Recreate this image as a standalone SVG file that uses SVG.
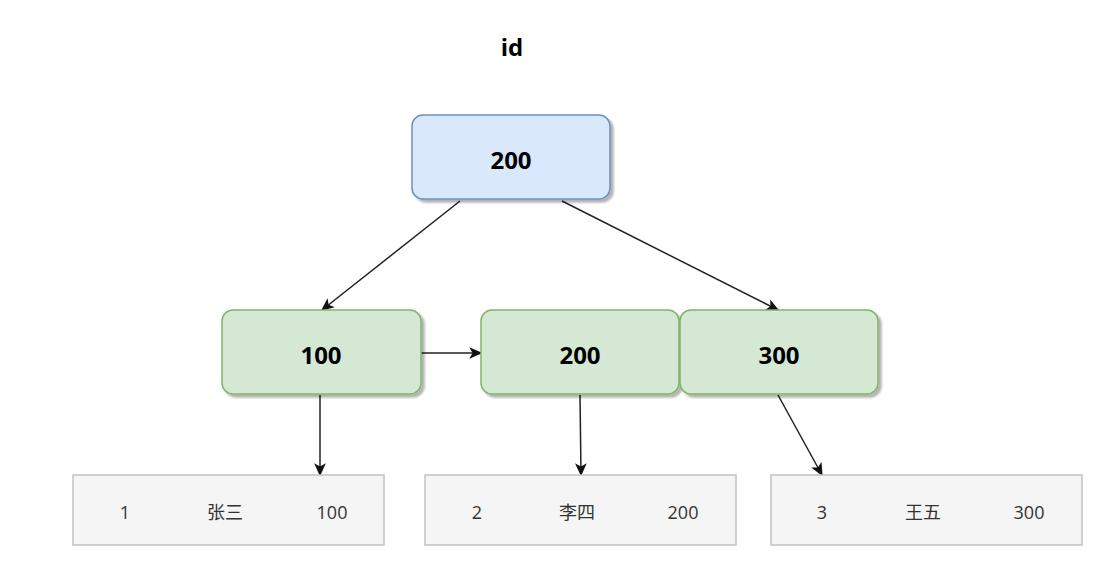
<svg xmlns="http://www.w3.org/2000/svg" width="1116" height="583" viewBox="0 0 1116 583">
  <defs>
    <filter id="shadow" x="-10%" y="-10%" width="130%" height="140%">
      <feGaussianBlur in="SourceAlpha" stdDeviation="1.2"/>
      <feOffset dx="3" dy="3" result="off"/>
      <feComponentTransfer><feFuncA type="linear" slope="0.3"/></feComponentTransfer>
      <feMerge><feMergeNode/><feMergeNode in="SourceGraphic"/></feMerge>
    </filter>
    <marker id="arrow" viewBox="0 0 10 10" refX="9" refY="5" markerWidth="13" markerHeight="13" markerUnits="userSpaceOnUse" orient="auto">
      <path d="M0,0.5 L10,5 L0,9.5 L2.5,5 Z" fill="#111"/>
    </marker>
  </defs>
  <style>
    .key { font-family: "Open Sans", "Liberation Sans", sans-serif; font-weight: bold; font-size: 24px; fill: #000; text-anchor: middle; dominant-baseline: central; }
    .row { font-family: "Open Sans", "Noto Sans CJK SC", sans-serif; font-size: 18px; fill: #333; text-anchor: middle; dominant-baseline: central; }
    .blue { fill: #dae8fc; stroke: #6c8ebf; stroke-width: 1.5; }
    .green { fill: #d5e8d4; stroke: #82b366; stroke-width: 1.5; }
    .leaf { fill: #f5f5f5; stroke: #c2c2c2; stroke-width: 1.5; }
    .edge { stroke: #222; stroke-width: 1.5; fill: none; marker-end: url(#arrow); }
  </style>
  <rect width="1116" height="583" fill="#fff"/>

  <text class="key" x="512" y="46" font-size="22">id</text>

  <g id="connectors">
    <line class="edge" x1="460" y1="201" x2="322" y2="310"/>
    <line class="edge" x1="562" y1="201" x2="778" y2="310"/>
    <line class="edge" x1="421" y1="353" x2="481" y2="353"/>
    <line class="edge" x1="320" y1="395" x2="320" y2="475"/>
    <line class="edge" x1="580" y1="395" x2="581" y2="475"/>
    <line class="edge" x1="778" y1="395" x2="822" y2="475"/>
  </g>

  <g id="root">
    <rect class="blue" x="412" y="115" width="198" height="84" rx="11" filter="url(#shadow)"/>
    <text class="key" x="511" y="159">200</text>
  </g>

  <g id="inner-100">
    <rect class="green" x="222" y="310" width="199" height="84" rx="11" filter="url(#shadow)"/>
    <text class="key" x="321" y="354">100</text>
  </g>
  <g id="inner-200">
    <rect class="green" x="481" y="310" width="198" height="84" rx="11" filter="url(#shadow)"/>
    <text class="key" x="580" y="354">200</text>
  </g>
  <g id="inner-300">
    <rect class="green" x="680" y="310" width="198" height="84" rx="11" filter="url(#shadow)"/>
    <text class="key" x="779" y="354">300</text>
  </g>

  <g id="leaf-1">
    <rect class="leaf" x="73" y="475" width="311" height="70"/>
    <text class="row" x="125" y="512">1</text>
    <text class="row" x="225" y="512">张三</text>
    <text class="row" x="332" y="512">100</text>
  </g>
  <g id="leaf-2">
    <rect class="leaf" x="425" y="475" width="311" height="70"/>
    <text class="row" x="477" y="512">2</text>
    <text class="row" x="577" y="512">李四</text>
    <text class="row" x="683" y="512">200</text>
  </g>
  <g id="leaf-3">
    <rect class="leaf" x="771" y="475" width="311" height="70"/>
    <text class="row" x="822" y="512">3</text>
    <text class="row" x="923" y="512">王五</text>
    <text class="row" x="1029" y="512">300</text>
  </g>
</svg>
